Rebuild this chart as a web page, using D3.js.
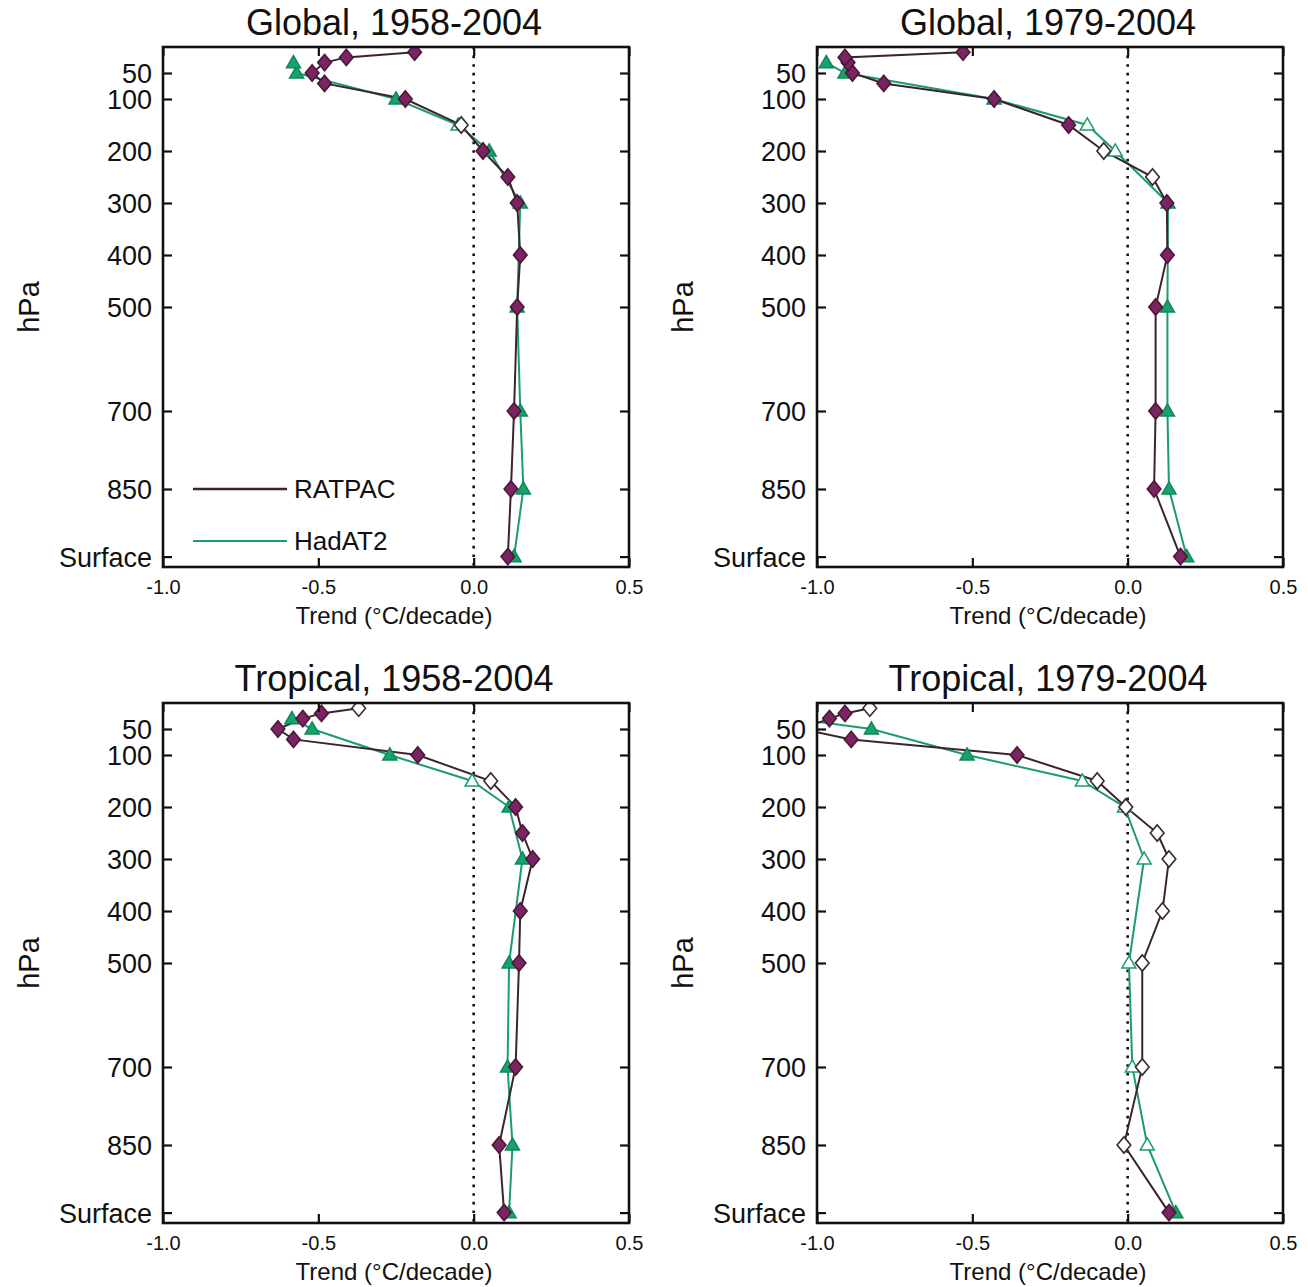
<!DOCTYPE html>
<html>
<head>
<meta charset="utf-8">
<script src="https://cdn.jsdelivr.net/npm/d3@7"></script>
<style>
  html, body { margin: 0; padding: 0; background: #ffffff; }
  svg { display: block; font-family: "Liberation Sans", Arial, Helvetica, sans-serif; }
</style>
</head>
<body>
<svg id="chart" width="1308" height="1287"></svg>
<script>
// ---------------- DATA ----------------
const ratpacLevels = [980, 850, 700, 500, 400, 300, 250, 200, 150, 100, 70, 50, 30, 20, 10];
const hadat2Levels = [980, 850, 700, 500, 300, 200, 150, 100, 50, 30];

const yTickValues = [50, 100, 200, 300, 400, 500, 700, 850, 980];
const yTickLabels = ["50", "100", "200", "300", "400", "500", "700", "850", "Surface"];
const xTickValues = [-1.0, -0.5, 0.0, 0.5];
const xTickLabels = ["-1.0", "-0.5", "0.0", "0.5"];

const panelTitles = ["Global, 1958-2004", "Global, 1979-2004", "Tropical, 1958-2004", "Tropical, 1979-2004"];
const seriesNames = ["RATPAC", "HadAT2"];

// trends (°C/decade), in level order
const ratpacGlobal1958 = [0.11, 0.12, 0.13, 0.14, 0.15, 0.14, 0.11, 0.03, -0.04, -0.22, -0.48, -0.52, -0.48, -0.41, -0.19];
const ratpacGlobal1958Sig = [1, 1, 1, 1, 1, 1, 1, 1, 0, 1, 1, 1, 1, 1, 1];
const hadat2Global1958 = [0.13, 0.16, 0.15, 0.14, 0.15, 0.05, -0.05, -0.25, -0.57, -0.58];
const hadat2Global1958Sig = [1, 1, 1, 1, 1, 1, 0, 1, 1, 1];

const ratpacGlobal1979 = [0.17, 0.085, 0.09, 0.09, 0.128, 0.126, 0.08, -0.077, -0.19, -0.43, -0.785, -0.886, -0.90, -0.91, -0.53];
const ratpacGlobal1979Sig = [1, 1, 1, 1, 1, 1, 0, 0, 1, 1, 1, 1, 1, 1, 1];
const hadat2Global1979 = [0.19, 0.133, 0.128, 0.128, 0.13, -0.04, -0.13, -0.43, -0.91, -0.97];
const hadat2Global1979Sig = [1, 1, 1, 1, 1, 0, 0, 1, 1, 1];

const ratpacTropics1958 = [0.098, 0.082, 0.135, 0.146, 0.15, 0.19, 0.157, 0.135, 0.055, -0.18, -0.58, -0.63, -0.55, -0.49, -0.37];
const ratpacTropics1958Sig = [1, 1, 1, 1, 1, 1, 1, 1, 0, 1, 1, 1, 1, 1, 0];
const hadat2Tropics1958 = [0.114, 0.125, 0.109, 0.114, 0.157, 0.114, -0.005, -0.27, -0.52, -0.585];
const hadat2Tropics1958Sig = [1, 1, 1, 1, 1, 1, 0, 1, 1, 1];

const ratpacTropics1979 = [0.133, -0.012, 0.047, 0.047, 0.112, 0.133, 0.095, -0.006, -0.098, -0.356, -0.89, -1.05, -0.96, -0.91, -0.83];
const ratpacTropics1979Sig = [1, 0, 0, 0, 0, 0, 0, 0, 0, 1, 1, 1, 1, 1, 0];
const hadat2Tropics1979 = [0.155, 0.063, 0.015, 0.004, 0.053, -0.01, -0.146, -0.517, -0.825, -1.08];
const hadat2Tropics1979Sig = [1, 0, 0, 0, 0, 0, 0, 1, 1, 1];

// ---------------- LAYOUT / STYLE ----------------
const ratpacLine = "#3b2431", ratpacFill = "#7a2463", ratpacStroke = "#4e1838";
const hadLine = "#1c9c6d", hadFill = "#17a36c", hadStroke = "#12875a";

const panels = [
  { title: panelTitles[0], left: 163, top: 47, r: ratpacGlobal1958, rs: ratpacGlobal1958Sig, h: hadat2Global1958, hs: hadat2Global1958Sig, legend: true },
  { title: panelTitles[1], left: 817, top: 47, r: ratpacGlobal1979, rs: ratpacGlobal1979Sig, h: hadat2Global1979, hs: hadat2Global1979Sig },
  { title: panelTitles[2], left: 163, top: 703, r: ratpacTropics1958, rs: ratpacTropics1958Sig, h: hadat2Tropics1958, hs: hadat2Tropics1958Sig },
  { title: panelTitles[3], left: 817, top: 703, r: ratpacTropics1979, rs: ratpacTropics1979Sig, h: hadat2Tropics1979, hs: hadat2Tropics1979Sig }
];
const W = 466, H = 520;

const svg = d3.select("#chart");
svg.append("rect").attr("width", 1308).attr("height", 1287).attr("fill", "#fff");

const diamond = d3.symbol().type(d3.symbolDiamond).size(95);
const triangle = d3.symbol().type(d3.symbolTriangle).size(85);

panels.forEach((p, i) => {
  const g = svg.append("g").attr("transform", `translate(${p.left},${p.top})`);
  const x = d3.scaleLinear().domain([-1.0, 0.5]).range([0, W]);
  const y = d3.scaleLinear().domain([0, 1000]).range([0, H]);

  const clipId = "clip" + i;
  g.append("clipPath").attr("id", clipId).append("rect").attr("width", W).attr("height", H);

  // zero line
  g.append("line")
    .attr("x1", x(0)).attr("x2", x(0)).attr("y1", 0).attr("y2", H)
    .attr("stroke", "#111").attr("stroke-width", 2.6)
    .attr("stroke-dasharray", "2.6,6");

  const plot = g.append("g").attr("clip-path", `url(#${clipId})`);
  const line = d3.line().x(d => x(d.v)).y(d => y(d.p));

  const hData = hadat2Levels.map((lv, k) => ({ p: lv, v: p.h[k], s: p.hs[k] }));
  const rData = ratpacLevels.map((lv, k) => ({ p: lv, v: p.r[k], s: p.rs[k] }));

  plot.append("path").datum(hData).attr("d", line)
    .attr("fill", "none").attr("stroke", hadLine).attr("stroke-width", 2);
  plot.append("path").datum(rData).attr("d", line)
    .attr("fill", "none").attr("stroke", ratpacLine).attr("stroke-width", 2);

  plot.selectAll(".tri").data(hData).enter().append("path")
    .attr("d", triangle)
    .attr("transform", d => `translate(${x(d.v)},${y(d.p) + 1})`)
    .attr("fill", d => d.s ? hadFill : "#fff")
    .attr("stroke", d => d.s ? hadStroke : hadLine)
    .attr("stroke-width", 1.5);

  plot.selectAll(".dia").data(rData).enter().append("path")
    .attr("d", diamond)
    .attr("transform", d => `translate(${x(d.v)},${y(d.p)}) scale(1.3,0.9)`)
    .attr("fill", d => d.s ? ratpacFill : "#fff")
    .attr("stroke", d => d.s ? ratpacStroke : "#3a2a30")
    .attr("stroke-width", 1.4);

  // axes
  const yAxisL = d3.axisLeft(y).tickValues(yTickValues)
    .tickFormat((d, k) => yTickLabels[k]).tickSizeInner(-9).tickSizeOuter(0).tickPadding(11);
  const yAxisR = d3.axisRight(y).tickValues(yTickValues)
    .tickFormat("").tickSizeInner(-9).tickSizeOuter(0);
  const xAxisB = d3.axisBottom(x).tickValues(xTickValues)
    .tickFormat((d, k) => xTickLabels[k]).tickSizeInner(-9).tickSizeOuter(0).tickPadding(13);
  const xAxisT = d3.axisTop(x).tickValues(xTickValues)
    .tickFormat("").tickSizeInner(-9).tickSizeOuter(0);

  const ga = g.append("g").call(yAxisL);
  ga.selectAll("text").attr("font-size", 27).attr("fill", "#111").attr("dy", "0.36em");
  const gr = g.append("g").attr("transform", `translate(${W},0)`).call(yAxisR);
  const gb = g.append("g").attr("transform", `translate(0,${H})`).call(xAxisB);
  gb.selectAll("text").attr("font-size", 20).attr("fill", "#111");
  const gt = g.append("g").call(xAxisT);
  [ga, gr, gb, gt].forEach(a => {
    a.select(".domain").remove();
    a.selectAll(".tick line").attr("stroke", "#111").attr("stroke-width", 2.2);
    a.attr("font-family", null);
  });

  // frame
  g.append("rect").attr("width", W).attr("height", H)
    .attr("fill", "none").attr("stroke", "#111").attr("stroke-width", 2.6);

  // titles / labels
  g.append("text").attr("x", W / 2 - 2).attr("y", -12)
    .attr("text-anchor", "middle").attr("font-size", 36).attr("fill", "#111").text(p.title);
  g.append("text").attr("transform", `translate(${-124},${H / 2}) rotate(-90)`)
    .attr("text-anchor", "middle").attr("font-size", 29).attr("fill", "#111").text("hPa");
  g.append("text").attr("x", W / 2 - 2).attr("y", H + 57)
    .attr("text-anchor", "middle").attr("font-size", 24).attr("fill", "#111").text("Trend (°C/decade)");

  if (p.legend) {
    const lg = g.append("g");
    const ly = [y(850), y(950)];
    const cols = [ratpacLine, hadLine];
    seriesNames.forEach((nm, k) => {
      lg.append("line").attr("x1", 30).attr("x2", 124).attr("y1", ly[k]).attr("y2", ly[k])
        .attr("stroke", cols[k]).attr("stroke-width", k === 0 ? 2.6 : 2);
      lg.append("text").attr("x", 131).attr("y", ly[k]).attr("dy", "0.36em")
        .attr("font-size", 26).attr("fill", "#111").text(nm);
    });
  }
});
</script>
</body>
</html>
